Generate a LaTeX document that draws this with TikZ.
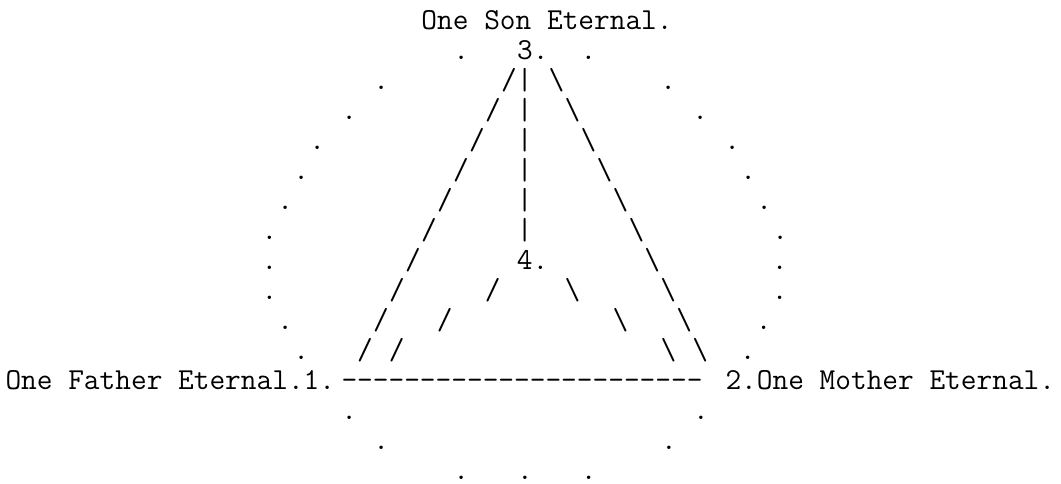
\documentclass[tikz,border=0pt]{standalone}
\usepackage{fontspec}
\newdimen\cellw
\cellw=12pt
\newcommand{\blanks}[1]{\hspace*{#1\cellw}}
\newcommand{\asciiface}{\fontsize{22.857pt}{22.5pt}\selectfont\ttfamily}
\tikzset{every picture/.style={line width=0.75pt}}
\tikzset{asciirow/.style={anchor=base west,inner sep=0pt,font=\asciiface}}

\begin{document}
\begin{tikzpicture}[x=0.75pt,y=0.75pt,yscale=-1,xscale=1]
%set diagram left start at 0, and has height of 483
\useasboundingbox (0,0) rectangle (1061,483);

% Text Node
\draw (5,29.5) node [asciirow] (son) {\blanks{26}One Son Eternal.};
% Text Node
\draw (5,59.5) node [asciirow] (row2) {\blanks{28}.\blanks{3}3.\blanks{2}.};
% Text Node
\draw (5,89.5) node [asciirow] (row3) {\blanks{23}.\blanks{7}/\textbar\blanks{1}\textbackslash\blanks{6}.};
% Text Node
\draw (5,119.5) node [asciirow] (row4) {\blanks{21}.\blanks{8}/\blanks{1}\textbar\blanks{2}\textbackslash\blanks{7}.};
% Text Node
\draw (5,149.5) node [asciirow] (row5) {\blanks{19}.\blanks{9}/\blanks{2}\textbar\blanks{3}\textbackslash\blanks{8}.};
% Text Node
\draw (5,179.5) node [asciirow] (row6) {\blanks{18}.\blanks{9}/\blanks{3}\textbar\blanks{4}\textbackslash\blanks{8}.};
% Text Node
\draw (5,209.5) node [asciirow] (row7) {\blanks{17}.\blanks{9}/\blanks{4}\textbar\blanks{5}\textbackslash\blanks{8}.};
% Text Node
\draw (5,239.5) node [asciirow] (row8) {\blanks{16}.\blanks{9}/\blanks{5}\textbar\blanks{6}\textbackslash\blanks{8}.};
% Text Node
\draw (5,269.5) node [asciirow] (row9) {\blanks{16}.\blanks{8}/\blanks{6}4.\blanks{6}\textbackslash\blanks{7}.};
% Text Node
\draw (5,299.5) node [asciirow] (row10) {\blanks{16}.\blanks{7}/\blanks{5}/\blanks{4}\textbackslash\blanks{5}\textbackslash\blanks{6}.};
% Text Node
\draw (5,329.5) node [asciirow] (row11) {\blanks{17}.\blanks{5}/\blanks{3}/\blanks{10}\textbackslash\blanks{3}\textbackslash\blanks{4}.};
% Text Node
\draw (5,359.5) node [asciirow] (row12) {\blanks{18}.\blanks{3}/\blanks{1}/\blanks{16}\textbackslash\blanks{1}\textbackslash\blanks{2}.};
% Text Node
\draw (5,389.5) node [asciirow] (father) {One Father Eternal.1.};
% Text Node
\draw (341,389.5) node [asciirow] (base) {-----------------------};
% Text Node
\draw (725,389.5) node [asciirow] (mother) {2.One Mother Eternal.};
% Text Node
\draw (5,419.5) node [asciirow] (row14) {\blanks{21}.\blanks{21}.};
% Text Node
\draw (5,449.5) node [asciirow] (row15) {\blanks{23}.\blanks{17}.};
% Text Node
\draw (5,479.5) node [asciirow] (row16) {\blanks{28}.\blanks{3}.\blanks{3}.};

\end{tikzpicture}
\end{document}
